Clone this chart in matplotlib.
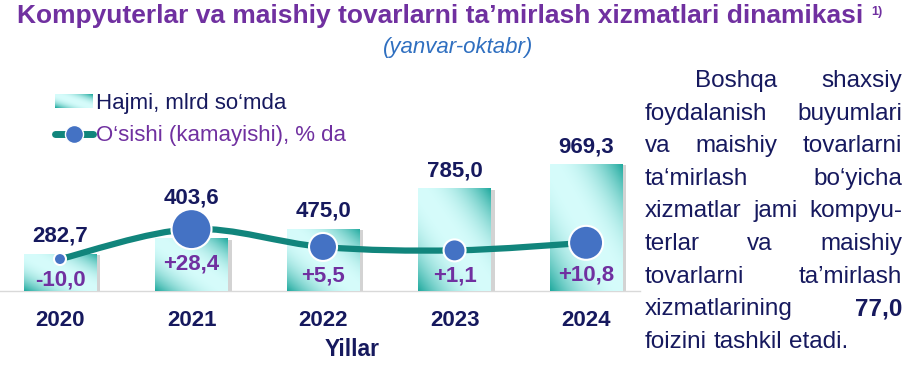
import numpy as np
import matplotlib
matplotlib.use("Agg")
import matplotlib.pyplot as plt
from matplotlib.path import Path
from matplotlib.patches import PathPatch, Patch
from matplotlib.lines import Line2D
import matplotlib.patheffects as pe

years = ["2020", "2021", "2022", "2023", "2024"]
volume = [282.7, 403.6, 475.0, 785.0, 969.3]      # mlrd so'm
growth = [-10.0, 28.4, 5.5, 1.1, 10.8]            # %

title = "Kompyuterlar va maishiy tovarlarni ta’mirlash xizmatlari dinamikasi"
subtitle = "(yanvar-oktabr)"
legend_labels = ["Hajmi, mlrd so‘mda", "O‘sishi (kamayishi), % da"]
xlabel = "Yillar"
note_lines = [
    "Boshqa shaxsiy",
    "foydalanish buyumlari",
    "va maishiy tovarlarni",
    "ta‘mirlash bo‘yicha",
    "xizmatlar jami kompyu-",
    "terlar va maishiy",
    "tovarlarni ta’mirlash",
    "xizmatlarining 77,0",
    "foizini tashkil etadi.",
]
bold_words = ["77,0"]

# colours
PURPLE = "#7030A0"
NAVY = "#16195E"
TEAL = "#11857C"
DOT = "#4472C4"
BAR_DARK = np.array([0x22, 0xAA, 0x9F]) / 255
BAR_LIGHT = np.array([0xD6, 0xFC, 0xFB]) / 255

W, H = 921, 367
dpi = 100
marker_px = [12, 40, 28, 22, 34]   # marker diameters in pixels

plt.rcParams["font.family"] = ["Liberation Sans", "DejaVu Sans"]

fig = plt.figure(figsize=(W / dpi, H / dpi), dpi=dpi)


def fx(px):
    return px / W


def fy(py):
    return 1 - py / H


def gradient(nx, ny, power=2.2):
    uu, vv = np.meshgrid(np.linspace(0, 1, nx), np.linspace(0, 1, ny))
    tt = np.clip(np.abs((uu + vv) / 2 - 0.5) * 2, 0, 1) ** power
    return BAR_LIGHT[None, None, :] * (1 - tt[..., None]) + BAR_DARK[None, None, :] * tt[..., None]


base_px = 291
ax = fig.add_axes([0, fy(base_px), fx(640), 191 / H])
ax2 = ax.twinx()

x = np.arange(len(years))
ax.set_xlim(-0.456, 4.41)
ax.set_ylim(0, 1458)
ax2.set_ylim(-51, 194)

# bars with diagonal gradient
bars = ax.bar(x, volume, width=0.55, color=BAR_LIGHT, zorder=2,
              path_effects=[pe.SimplePatchShadow(offset=(3, -1), shadow_rgbFace="#707070", alpha=0.3),
                            pe.Normal()])
grad = gradient(64, 64)
for b in bars:
    x0, w_, h_ = b.get_x(), b.get_width(), b.get_height()
    im = ax.imshow(grad, extent=[x0, x0 + w_, 0, h_], origin="lower",
                   aspect="auto", zorder=3, interpolation="bilinear")
    im.set_clip_path(b)
ax.set_xlim(-0.456, 4.41)
ax.set_ylim(0, 1458)

# smooth growth line (Catmull-Rom as bezier)
pts = np.column_stack([x, growth]).astype(float)
verts = [pts[0]]
codes = [Path.MOVETO]
for i in range(len(pts) - 1):
    p0 = pts[i - 1] if i > 0 else pts[i]
    p1, p2 = pts[i], pts[i + 1]
    p3 = pts[i + 2] if i + 2 < len(pts) else pts[i + 1]
    verts += [p1 + (p2 - p0) / 6, p2 - (p3 - p1) / 6, p2]
    codes += [Path.CURVE4] * 3
ax2.add_patch(PathPatch(Path(verts, codes), fill=False, edgecolor=TEAL, lw=4.5,
                        capstyle="round", zorder=4))
sizes = [(d * 72 / dpi) ** 2 for d in marker_px]
ax2.scatter(x, growth, s=sizes, color=DOT, edgecolors="white", linewidths=1.5, zorder=5)

# labels
for i, (val, g) in enumerate(zip(volume, growth)):
    bar_top = ax.transData.transform((i, val))[1]
    mk_top = ax2.transData.transform((i, g))[1] + marker_px[i] / 2
    off = max(12, mk_top - bar_top + 6)
    ax.annotate(f"{val:.1f}".replace(".", ","), (i, val), xytext=(0, off * 72 / dpi),
                textcoords="offset points", ha="center", va="baseline",
                fontsize=16, fontweight="bold", color=NAVY, zorder=6)
    sign = "+" if g > 0 else ""
    ax2.annotate(f"{sign}{g:.1f}".replace(".", ","), (i, g),
                 xytext=(0, -(marker_px[i] / 2 + 15) * 72 / dpi),
                 textcoords="offset points", ha="center", va="center",
                 fontsize=16, fontweight="bold", color=PURPLE, zorder=6)

for a in (ax, ax2):
    for s in a.spines.values():
        s.set_visible(False)
    a.set_yticks([])
ax.spines["bottom"].set_visible(True)
ax.spines["bottom"].set_color("#D9D9D9")
ax.spines["bottom"].set_linewidth(1)
ax.set_xticks(x)
ax.set_xticklabels(years, fontsize=16, fontweight="bold", color=NAVY)
ax.tick_params(axis="x", length=0, pad=14)
ax.set_facecolor("none")
ax2.set_facecolor("none")

fig.text(fx(352), fy(349), xlabel, ha="center", va="center", fontsize=16.5,
         fontweight="bold", color=NAVY)

# legend
handles = [Patch(facecolor="#8FDCD6", edgecolor="none"),
           Line2D([0], [0], color=TEAL, lw=5, marker="o", markersize=13,
                  markerfacecolor=DOT, markeredgecolor="white", solid_capstyle="round")]
leg = fig.legend(handles, legend_labels, loc="upper left", bbox_to_anchor=(fx(55), fy(93)),
                 frameon=False, fontsize=16, handlelength=1.7, handleheight=0.6,
                 handletextpad=0.15, labelspacing=0.5, borderaxespad=0, borderpad=0)
leg.get_texts()[0].set_color(NAVY)
leg.get_texts()[1].set_color(PURPLE)

# titles
fig.text(fx(440), fy(16), title, ha="center", va="center", fontsize=19,
         fontweight="bold", color=PURPLE)
fig.text(fx(871), fy(12), "1)", ha="left", va="center", fontsize=9,
         fontweight="bold", color=PURPLE)
fig.text(fx(458), fy(47), subtitle, ha="center", va="center", fontsize=16,
         style="italic", color="#2F6FC0")

# justified note on the right
fig.canvas.draw()
renderer = fig.canvas.get_renderer()
left, right = 645, 902
for li, line in enumerate(note_lines):
    ypx = 81 + li * 32.6
    words = line.split()
    arts = []
    for wd in words:
        arts.append(fig.text(0, fy(ypx), wd, ha="left", va="center", fontsize=17.5,
                             color=NAVY, fontweight="bold" if wd in bold_words else "normal"))
    widths = [a.get_window_extent(renderer).width for a in arts]
    start = 695 if li == 0 else left
    if li == len(note_lines) - 1:
        gap = 17.5 * 0.278 * dpi / 72
    else:
        gap = (right - start - sum(widths)) / max(len(words) - 1, 1)
    xp = start
    for a, wdt in zip(arts, widths):
        a.set_x(fx(xp))
        xp += wdt + gap

# gradient in legend swatch
fig.canvas.draw()
bb = leg.legend_handles[0].get_window_extent(renderer)
hw, hh = int(round(bb.width)), int(round(bb.height))
fig.figimage(gradient(hw, hh), xo=int(round(bb.x0)), yo=int(round(bb.y0)),
             origin="lower", zorder=10)

fig.savefig("out.png", dpi=dpi)
